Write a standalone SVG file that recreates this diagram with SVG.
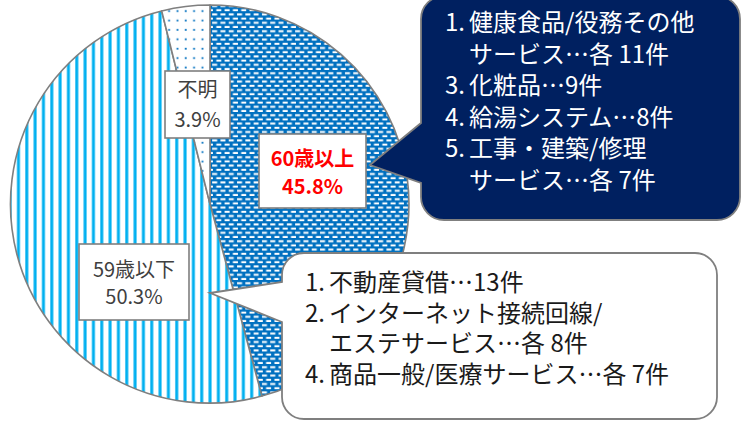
<svg xmlns="http://www.w3.org/2000/svg" width="746" height="421" viewBox="0 0 746 421">
  <defs>
    <pattern id="pat-dash" patternUnits="userSpaceOnUse" width="8.3" height="8.4">
      <rect width="8.3" height="8.4" fill="#0070C0"/>
      <rect x="0.5" y="0.8" width="5" height="2" fill="#ffffff"/>
      <rect x="4.65" y="5" width="5" height="2" fill="#ffffff"/>
      <rect x="-3.65" y="5" width="5" height="2" fill="#ffffff"/>
    </pattern>
    <pattern id="pat-stripe" patternUnits="userSpaceOnUse" width="8.33" height="10">
      <rect width="8.33" height="10" fill="#ffffff"/>
      <rect x="0.3" y="0" width="3" height="10" fill="#00B0F0"/>
    </pattern>
    <pattern id="pat-dot" patternUnits="userSpaceOnUse" width="8.33" height="9.4">
      <rect width="8.33" height="9.4" fill="#ffffff"/>
      <rect x="1.6" y="0.8" width="1.8" height="1.8" fill="#0070C0"/>
    </pattern>
  </defs>
  <style>
    .slice { stroke: #7f7f7f; stroke-width: 1.6; stroke-linejoin: round; }
    .box { fill: #ffffff; stroke: #7f7f7f; stroke-width: 1.6; }
    .lbl { font-family: "Noto Sans CJK JP", "Noto Sans", sans-serif; font-size: 20px; fill: #404040; text-anchor: middle; }
    .lbl-red { font-family: "Noto Sans CJK JP", "Noto Sans", sans-serif; font-size: 20px; font-weight: bold; fill: #FF0000; text-anchor: middle; }
    .bubble { stroke: #7f7f7f; stroke-width: 1.8; stroke-linejoin: miter; }
    .ctxt { font-family: "Noto Sans CJK JP", "Noto Sans", sans-serif; font-size: 24px; }
  </style>
  <rect width="746" height="421" fill="#ffffff"/>

  <g id="pie">
    <path id="slice-60" class="slice" fill="url(#pat-dash)" d="M210,204 L210,5 A199,199 0 0 1 261.9,396.1 Z"/>
    <path id="slice-59" class="slice" fill="url(#pat-stripe)" d="M210,204 L261.9,396.1 A199,199 0 1 1 161.7,10.95 Z"/>
    <path id="slice-unknown" class="slice" fill="url(#pat-dot)" d="M210,204 L161.7,10.95 A199,199 0 0 1 210,5 Z"/>
  </g>

  <g id="label-unknown">
    <rect class="box" x="165" y="71" width="65" height="67"/>
    <text class="lbl" x="197.5" y="97">不明</text>
    <text class="lbl" x="197.5" y="127">3.9%</text>
  </g>

  <g id="label-60">
    <rect class="box" x="259" y="134" width="107" height="74"/>
    <text class="lbl-red" x="312.5" y="166">60歳以上</text>
    <text class="lbl-red" x="312.5" y="194">45.8%</text>
  </g>

  <g id="label-59">
    <rect class="box" x="79" y="244" width="110" height="76"/>
    <text class="lbl" x="134" y="277">59歳以下</text>
    <text class="lbl" x="134" y="304">50.3%</text>
  </g>

  <g id="callout-60">
    <path class="bubble" fill="#002060" d="M444,-4 H717 A23,23 0 0 1 740,19 V197 A23,23 0 0 1 717,220 H444 A23,23 0 0 1 421,197 V183 L370,165 L421,123 V19 A23,23 0 0 1 444,-4 Z"/>
    <g class="ctxt" fill="#ffffff">
      <text y="31"><tspan x="445">1.</tspan><tspan x="469">健康食品/役務その他</tspan></text>
      <text x="469" y="62.5">サービス…各 11件</text>
      <text y="94"><tspan x="445">3.</tspan><tspan x="469">化粧品…9件</tspan></text>
      <text y="125.5"><tspan x="445">4.</tspan><tspan x="469">給湯システム…8件</tspan></text>
      <text y="157"><tspan x="445">5.</tspan><tspan x="469">工事・建築/修理</tspan></text>
      <text x="469" y="188.5">サービス…各 7件</text>
    </g>
  </g>

  <g id="callout-59">
    <path class="bubble" fill="#ffffff" d="M304,253 H695 A22,22 0 0 1 717,275 V397 A22,22 0 0 1 695,419 H304 A22,22 0 0 1 282,397 V322 L210,293 L282,282 V275 A22,22 0 0 1 304,253 Z"/>
    <g class="ctxt" fill="#1a1a1a">
      <text y="291"><tspan x="305">1.</tspan><tspan x="329">不動産貸借…13件</tspan></text>
      <text y="321.5"><tspan x="305">2.</tspan><tspan x="329">インターネット接続回線/</tspan></text>
      <text x="329" y="352">エステサービス…各 8件</text>
      <text y="382.5"><tspan x="305">4.</tspan><tspan x="329">商品一般/医療サービス…各 7件</tspan></text>
    </g>
  </g>
</svg>
